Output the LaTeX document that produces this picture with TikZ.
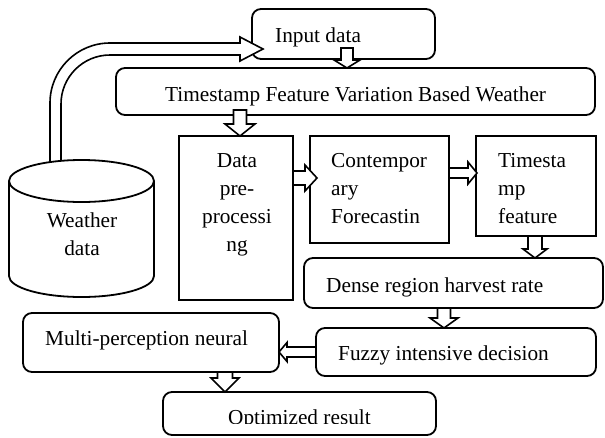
\documentclass[tikz,border=0pt]{standalone}
\usepackage{fontspec}
\setmainfont{Liberation Serif}
\usetikzlibrary{calc}
\tikzset{
  boxline/.style={draw=black, line width=1.8pt},
  rbox/.style={boxline, rounded corners=9pt, fill=white},
  sbox/.style={boxline, fill=white},
  txt/.style={inner sep=0pt, font=\fontsize{21.3}{28}\selectfont},
  barrow/.style={draw=black, line width=1.6pt, fill=white, line join=miter},
}
\newcommand\lns[2]{\begin{tabular}[t]{@{}#1@{}}#2\end{tabular}}
% box node from corner coordinates: style, name, x1, y1, x2, y2
\newcommand\boxat[6]{%
  \node[#1, inner sep=0pt, outer sep=0pt, minimum width={(#5)-(#3)}, minimum height={(#6)-(#4)}]
    (#2) at ({((#3)+(#5))/2},{((#4)+(#6))/2}) {};}
% block arrow: from, to, shaft half width, head half width, head length
\newcommand\barr[5]{%
  \coordinate (bahead) at ($(#2)!#5!(#1)$);
  \draw[barrow] ($(#1)!#3!90:(#2)$) -- ($(bahead)!#3!-90:(#1)$) -- ($(bahead)!#4!-90:(#1)$) -- (#2)
    -- ($(bahead)!#4!90:(#1)$) -- ($(bahead)!#3!90:(#1)$) -- ($(#1)!#3!-90:(#2)$) -- cycle;}
\begin{document}
\begin{tikzpicture}[x=1pt,y=-1pt]
\useasboundingbox (0,0) rectangle (605,437);
\clip (0,0) rectangle (605,437);
\fill[white] (0,0) rectangle (605,437);

% boxes
\boxat{rbox}{in}{252}{9}{435}{59}
\boxat{rbox}{ts}{116}{68}{595}{115}
\boxat{sbox}{dp}{179}{136}{293}{300}
\boxat{sbox}{ct}{310}{136}{449}{243}
\boxat{sbox}{tf}{476}{136}{596}{236}
\boxat{rbox}{dr}{304}{258}{603}{308}
\boxat{rbox}{fz}{316}{328}{596}{376}
\boxat{rbox}{mp}{23}{313}{279}{372}
\boxat{rbox}{op}{163}{392}{436}{435}

% texts
\node[txt, anchor=base west] (tin) at (275,42) {Input data};
\node[txt, anchor=base west] (tts) at (165,101) {Timestamp Feature Variation Based Weather};
\node[txt, anchor=base] (tdp) at (237,167) {\lns{c}{Data\\pre-\\processi\\ng}};
\node[txt, anchor=base west] (tct) at (331,167) {\lns{l}{Contempor\\ary\\Forecastin}};
\node[txt, anchor=base west] (ttf) at (498,167) {\lns{l}{Timesta\\mp\\feature}};
\node[txt, anchor=base west] (tdr) at (326,292) {Dense region harvest rate};
\node[txt, anchor=base west] (tfz) at (338,360) {Fuzzy intensive decision};
\node[txt, anchor=base west] (tmp) at (45,345) {Multi-perception neural};
\begin{scope}
  \clip (163,392) rectangle (436,423);
  \node[txt, anchor=base west] (top) at (228,424) {Optimized result};
\end{scope}

% block arrows between boxes
\coordinate (a1s) at (347,48);
\coordinate (a1e) at (a1s |- ts.north);
\barr{a1s}{a1e}{6pt}{13pt}{8pt}
\coordinate (a2e) at (240,136);
\coordinate (a2s) at (240,110);
\barr{a2s}{a2e}{6.5pt}{15pt}{12pt}
\coordinate (a3s) at (dp.east |- 0,178);
\coordinate (a3e) at (317,178);
\barr{a3s}{a3e}{7pt}{13pt}{12pt}
\coordinate (a4s) at (ct.east |- 0,173);
\coordinate (a4e) at (477,173);
\barr{a4s}{a4e}{5pt}{11pt}{9pt}
\coordinate (a5s) at (535,236);
\coordinate (a5e) at (a5s |- dr.north);
\barr{a5s}{a5e}{7pt}{12pt}{9pt}
\coordinate (a6s) at (444,308);
\coordinate (a6e) at (a6s |- fz.north);
\barr{a6s}{a6e}{6.5pt}{14pt}{10pt}
\coordinate (a7s) at (fz.west |- 0,352);
\coordinate (a7e) at (a7s -| mp.east);
\barr{a7s}{a7e}{5pt}{9.5pt}{8pt}
\coordinate (a8s) at (225,372);
\coordinate (a8e) at (a8s |- op.north);
\barr{a8s}{a8e}{7.5pt}{14pt}{14pt}

% curved arrow from weather data to input data
\draw[barrow] (50,172) -- (50,103) arc[start angle=180, end angle=270, radius=60]
  -- (240,43) -- (240,37) -- (263,49) -- (240,61) -- (240,55) -- (110,55)
  arc[start angle=270, end angle=180, radius=49] -- (61,172) -- cycle;

% cylinder
\draw[boxline, fill=white] (9,181) -- (9,276) arc[start angle=180, end angle=0, x radius=72.5, y radius=21]
  -- (154,181);
\draw[boxline, fill=white] (81.5,181) ellipse[x radius=72.5, y radius=21];
\node[txt, anchor=base] (wd) at (82,227) {\lns{c}{Weather\\data}};
\end{tikzpicture}
\end{document}
